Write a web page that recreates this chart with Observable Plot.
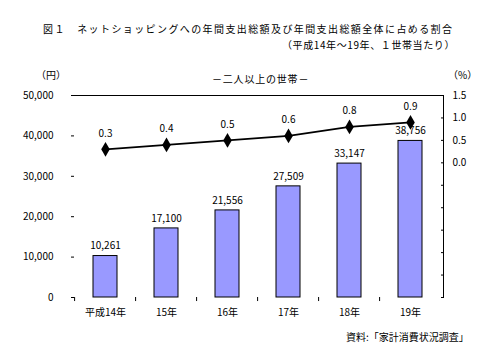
<!DOCTYPE html>
<html><head><meta charset="utf-8">
<script src="https://cdn.jsdelivr.net/npm/d3@7"></script>
<script src="https://cdn.jsdelivr.net/npm/@observablehq/plot@0.6"></script>
<style>
body{margin:0;background:#fff;}
#wrap{position:relative;width:500px;height:346px;font-family:"Noto Sans CJK JP",sans-serif;color:#000;overflow:hidden;}
.t{position:absolute;white-space:nowrap;font-size:10px;line-height:1;}
#chart{position:absolute;left:0;top:0;}
</style></head>
<body><div id="wrap">
<div class="t" style="left:43px;top:24px;letter-spacing:1.4px;">図１　ネットショッピングへの年間支出総額及び年間支出総額全体に占める割合</div>
<div class="t" style="right:45px;top:40px;letter-spacing:0.6px;">（平成14年～19年、１世帯当たり）</div>
<div class="t" style="left:212px;top:74px;letter-spacing:0.8px;">－二人以上の世帯－</div>
<div class="t" style="left:36px;top:70px;">（円）</div>
<div class="t" style="left:448px;top:70px;">（%）</div>
<div class="t" style="left:346px;top:332px;">資料:「家計消費状況調査」</div>
<div id="chart"></div>
</div>
<script>
const years = ["平成14年","15年","16年","17年","18年","19年"];
const spending = [10261,17100,21556,27509,33147,38756];
const shares = [0.3,0.4,0.5,0.6,0.8,0.9];
const leftTicks = [0,10000,20000,30000,40000,50000];
const rightTicks = [-3,-2.5,-2,-1.5,-1,-0.5,0,0.5,1,1.5];
const rightLabelTicks = [0,0.5,1,1.5];

const yMax = 50000, rMin = -3, rMax = 1.5;
const toY = p => (p - rMin) / (rMax - rMin) * yMax;
const fromY = v => (v / yMax) * (rMax - rMin) + rMin;

const data = years.map((year,i)=>({year, spending: spending[i], share: shares[i]}));
const fmt = d3.format(",");

const chart = Plot.plot({
  width: 500, height: 346,
  marginLeft: 72, marginRight: 57, marginTop: 95, marginBottom: 49,
  style: {fontFamily: '"Noto Sans CJK JP", sans-serif', fontSize: "10px", background: "transparent"},
  x: {domain: years, paddingInner: 0.61, paddingOuter: 0.305, axis: null, label: null},
  y: {domain: [0, yMax], axis: null, label: null},
  marks: [
    Plot.barY(data, {x: "year", y: "spending", fill: "#9999ff", stroke: "#000", strokeWidth: 1}),
    Plot.text(data, {x: "year", y: "spending", text: d => fmt(d.spending), dy: -10, fontSize: 10}),
    Plot.ruleY([yMax], {stroke: "#000", strokeWidth: 1}),
    Plot.frame({anchor: "right", stroke: "#000"}),
    Plot.ruleX(years, {x: d => d, y1: 0, y2: -1000, dx: -30.9, stroke: "#000", strokeWidth: 1}),
    Plot.axisY(leftTicks, {anchor: "left", label: null, tickSize: 3, dx: 2, tickPadding: 18, tickFormat: d => fmt(d), fontSize: 10}),
    Plot.axisY(rightTicks.map(toY), {anchor: "right", label: null, tickSize: 3, dx: -3, text: null}),
    Plot.axisY(rightLabelTicks.map(toY), {anchor: "right", label: null, tickSize: 0, tickPadding: 9, tickFormat: v => Math.abs(fromY(v)).toFixed(1), fontSize: 10}),
    Plot.axisX({anchor: "bottom", label: null, tickSize: 0, tickPadding: 11, fontSize: 10}),
    Plot.line(data, {x: "year", y: d => toY(d.share), stroke: "#000", strokeWidth: 1.8}),
    Plot.dot(data, {x: "year", y: d => toY(d.share), symbol: "diamond", r: 4.5, fill: "#000", stroke: "none"}),
    Plot.text(data, {x: "year", y: d => toY(d.share), text: d => d.share.toFixed(1), dy: -16, fontSize: 10})
  ]
});
document.getElementById("chart").appendChild(chart);
</script>
</body></html>
